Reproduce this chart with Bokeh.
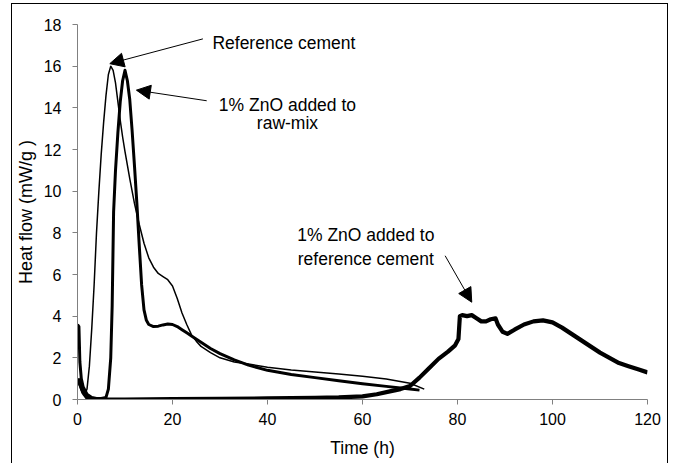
from bokeh.plotting import figure
from bokeh.models import Range1d, FixedTicker, Label, Arrow, NormalHead
from bokeh.embed import file_html
from bokeh.resources import INLINE

FONT = "Liberation Sans"

# Reference cement
ref_t = [0, 0.5, 1, 1.5, 2, 2.5, 3, 3.5, 4, 4.5, 5, 5.5, 6, 6.5, 7, 7.5, 8, 8.5, 9, 9.5,
         10, 11, 12, 13, 14, 15, 16, 17, 18, 19, 20, 21, 22, 23, 24, 25, 26, 28, 30, 33,
         36, 40, 45, 50, 55, 60, 65, 70, 73]
ref_q = [0.9, 0.6, 0.3, 0.2, 0.5, 1.6, 3.4, 5.5, 8.0, 10.0, 11.8, 13.3, 14.6, 15.6, 16.0, 15.8, 15.2, 14.3, 13.4, 12.6,
         11.9, 10.6, 9.4, 8.4, 7.5, 6.8, 6.35, 6.05, 5.9, 5.75, 5.45, 4.85, 4.15, 3.6, 3.1, 2.8, 2.55, 2.25, 2.0, 1.8,
         1.7, 1.55, 1.42, 1.32, 1.22, 1.12, 0.98, 0.78, 0.5]

# 1% ZnO added to raw-mix
raw_t = [0, 0.3, 0.5, 0.8, 1.2, 2, 3, 4, 5, 6, 6.5, 7, 7.3, 7.6, 8, 8.5, 9, 9.5, 10, 10.5,
         11, 11.5, 12, 12.5, 13, 13.5, 14, 14.5, 15, 16, 17, 18, 19, 20, 21, 22, 23, 24, 26, 28,
         30, 33, 36, 40, 45, 50, 55, 60, 65, 70, 72]
raw_q = [3.6, 3.5, 1.8, 1.0, 0.6, 0.25, 0.1, 0.05, 0.05, 0.1, 0.5, 2.0, 4.5, 9.0, 11.0, 12.8, 14.3, 15.3, 15.8, 15.3,
         14.4, 12.9, 11.2, 9.4, 7.4, 5.5, 4.3, 3.8, 3.6, 3.5, 3.52, 3.58, 3.62, 3.6, 3.5, 3.35, 3.2, 3.05, 2.75, 2.45,
         2.2, 1.9, 1.65, 1.4, 1.2, 1.05, 0.9, 0.76, 0.63, 0.5, 0.45]

# 1% ZnO added to reference cement
zr_t = [0, 0.5, 1, 1.5, 2, 3, 5, 10, 20, 30, 40, 50, 55, 60, 63, 66, 68, 70, 72, 74,
        76, 78, 79.5, 80.2, 80.5, 81, 82, 83, 84, 85, 86, 87, 88, 88.5, 89.5, 90.5, 92, 94, 96, 98,
        100, 102, 104, 106, 108, 110, 112, 114, 116, 118, 120]
zr_q = [1.0, 0.8, 0.5, 0.25, 0.1, 0.03, 0.0, 0.0, 0.02, 0.03, 0.05, 0.08, 0.1, 0.15, 0.25, 0.4, 0.5, 0.65, 1.05, 1.5,
        1.95, 2.3, 2.6, 2.9, 4.0, 4.05, 4.0, 4.05, 3.9, 3.75, 3.75, 3.85, 3.9, 3.6, 3.25, 3.15, 3.35, 3.6, 3.75, 3.8,
        3.7, 3.45, 3.15, 2.85, 2.55, 2.25, 2.0, 1.75, 1.6, 1.45, 1.3]

x_ticks = [0, 20, 40, 60, 80, 100, 120]
y_ticks = [0, 2, 4, 6, 8, 10, 12, 14, 16, 18]

p = figure(width=655, height=459,
           x_range=Range1d(0, 120), y_range=Range1d(0, 18),
           output_backend="svg", toolbar_location=None,
           min_border_left=64, min_border_right=20,
           min_border_top=20, min_border_bottom=64,
           margin=(4, 8, 0, 12),
           styles={"outline": "1px solid black"})

p.outline_line_color = None
p.xgrid.visible = False
p.ygrid.visible = False
p.background_fill_color = "white"
p.border_fill_color = "white"

for ax, ticks in ((p.xaxis, x_ticks), (p.yaxis, y_ticks)):
    ax.ticker = FixedTicker(ticks=ticks)
    ax.axis_line_color = "#808080"
    ax.major_tick_line_color = "#808080"
    ax.minor_tick_line_color = None
    ax.major_tick_in = 0
    ax.major_tick_out = 5
    ax.major_label_text_font = FONT
    ax.major_label_text_font_size = "16px"
    ax.major_label_text_color = "black"
    ax.axis_label_text_font = FONT
    ax.axis_label_text_font_style = "normal"
    ax.axis_label_text_color = "black"

p.xaxis.axis_label = "Time (h)"
p.xaxis.axis_label_text_font_size = "17.5px"
p.xaxis.major_label_standoff = 8
p.xaxis.axis_label_standoff = 10
p.yaxis.axis_label = "Heat flow (mW/g )"
p.yaxis.axis_label_text_font_size = "18px"
p.yaxis.major_label_standoff = 11
p.yaxis.axis_label_standoff = 5

p.line(zr_t, zr_q, line_color="black", line_width=4.2, line_join="round")
p.line(raw_t, raw_q, line_color="black", line_width=3, line_join="round")
p.line(ref_t, ref_q, line_color="black", line_width=1.5, line_join="round")


def note(x, y, text, align="left"):
    p.add_layout(Label(x=x, y=y, text=text, text_font=FONT, text_font_size="17.5px",
                       text_align=align, text_baseline="middle", text_color="black"))


def pointer(x0, y0, x1, y1):
    p.add_layout(Arrow(end=NormalHead(size=14, fill_color="black", line_color="black"),
                       x_start=x0, y_start=y0, x_end=x1, y_end=y1,
                       line_color="black", line_width=1))


note(28.4, 17.12, "Reference cement")
pointer(26.4, 17.31, 6.8, 16.12)

note(44.2, 14.15, "1% ZnO added to", align="center")
note(44.2, 13.25, "raw-mix", align="center")
pointer(27.2, 14.34, 12.4, 14.85)

note(60.7, 7.91, "1% ZnO added to", align="center")
note(60.7, 6.76, "reference cement", align="center")
pointer(77.4, 6.9, 83.0, 4.67)

open("out.html", "w").write(file_html(p, INLINE))
